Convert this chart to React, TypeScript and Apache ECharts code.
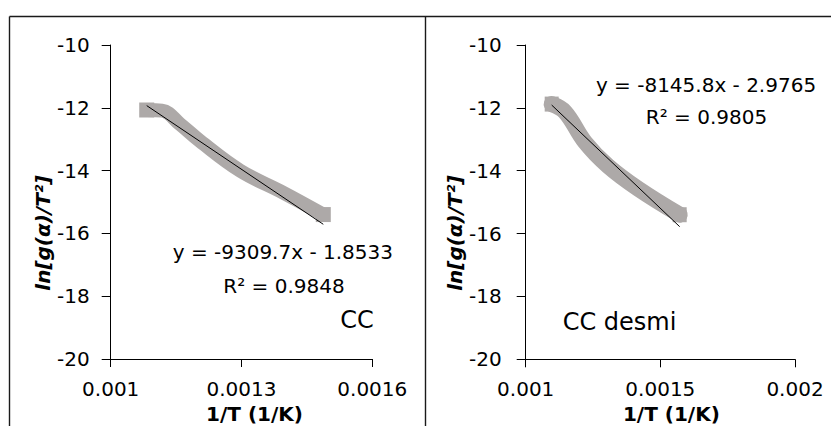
import React, { useEffect, useRef } from "react";
import * as echarts from "echarts";

// ---- data ----
const leftBandX = [0.0010826, 0.0011177, 0.0011589, 0.0012048, 0.0012966, 0.0013952, 0.0014876];
const leftBandY = [-12.07, -12.09, -12.52, -13.06, -14.0, -14.7, -15.4];
const leftTrendX = [0.0010826, 0.0014876];
const leftTrendY = [-11.93, -15.71];

const rightBandX = [0.0010965, 0.0011459, 0.0012202, 0.0013056, 0.001417, 0.0015718];
const rightBandY = [-11.88, -12.13, -13.09, -13.85, -14.57, -15.4];
const rightTrendX = [0.0010965, 0.0015718];
const rightTrendY = [-11.91, -15.78];

const leftXTicks = [0.001, 0.0013, 0.0016];
const rightXTicks = [0.001, 0.0015, 0.002];
const yTicks = [-20, -18, -16, -14, -12, -10];

const leftEquation = "y = -9309.7x - 1.8533";
const leftR2 = "R² = 0.9848";
const leftLabel = "CC";
const rightEquation = "y = -8145.8x - 2.9765";
const rightR2 = "R² = 0.9805";
const rightLabel = "CC desmi";

const xTitle = "1/T (1/K)";
const yTitle = "ln[g(α)/T²]";

const FONT = "'DejaVu Sans', sans-serif";
const BAND = "#ADA9A8";

function pairs(xs: number[], ys: number[]) {
  return xs.map((x, i) => [x, ys[i]]);
}

function bandData(xs: number[], ys: number[], size: number[]) {
  return xs.map((x, i) => {
    const end = i === 0 || i === xs.length - 1;
    return end
      ? { value: [x, ys[i]], symbol: "rect", symbolSize: size }
      : { value: [x, ys[i]], symbol: "none" };
  });
}

function xAxisFor(idx: number, ticks: number[], pad: number) {
  return {
    type: "value",
    gridIndex: idx,
    min: ticks[0],
    max: ticks[ticks.length - 1],
    splitLine: { show: false },
    axisLine: { show: true, onZero: false, lineStyle: { color: "#000", width: 1 } },
    axisTick: { show: true, length: 8, customValues: ticks, lineStyle: { color: "#000" } },
    axisLabel: {
      customValues: ticks,
      margin: 20,
      color: "#000",
      fontFamily: FONT,
      fontSize: 20,
      formatter: (v: number) => String(+v.toPrecision(6)),
    },
    name: xTitle,
    nameLocation: "middle",
    nameGap: 41,
    nameTextStyle: {
      fontFamily: FONT,
      fontSize: 20,
      fontWeight: "bold",
      color: "#000",
      padding: [0, 0, 0, pad],
    },
  };
}

function yAxisFor(idx: number, margin: number) {
  return {
    type: "value",
    gridIndex: idx,
    min: yTicks[0],
    max: yTicks[yTicks.length - 1],
    interval: 2,
    splitLine: { show: false },
    axisLine: { show: true, onZero: false, lineStyle: { color: "#000", width: 1 } },
    axisTick: { show: true, length: 9, lineStyle: { color: "#000" } },
    axisLabel: { margin, color: "#000", fontFamily: FONT, fontSize: 20 },
    name: yTitle,
    nameLocation: "middle",
    nameGap: 58,
    nameTextStyle: {
      fontFamily: FONT,
      fontSize: 20,
      fontWeight: "bold",
      fontStyle: "italic",
      color: "#000",
      padding: [0, 62, 0, 0],
    },
  };
}

function bandSeries(axis: number, xs: number[], ys: number[], width: number, endSize: number[], cap: string) {
  return {
    type: "line",
    xAxisIndex: axis,
    yAxisIndex: axis,
    data: bandData(xs, ys, endSize),
    smooth: 0.4,
    showSymbol: true,
    itemStyle: { color: BAND },
    lineStyle: { color: BAND, width, cap, join: "round" },
    z: 2,
  };
}

function trendSeries(axis: number, xs: number[], ys: number[]) {
  return {
    type: "line",
    xAxisIndex: axis,
    yAxisIndex: axis,
    data: pairs(xs, ys),
    symbol: "none",
    lineStyle: { color: "#000", width: 1 },
    z: 3,
  };
}

export default function App() {
  const ref = useRef<HTMLDivElement>(null);
  useEffect(() => {
    document.body.style.margin = "0";
    const chart = echarts.init(ref.current!, null, { renderer: "svg" });
    const frame = { stroke: "#1a1a1a", lineWidth: 1.4 };
    const txt = (text: string, x: number, y: number, size = 20, align = "center") => ({
      type: "text",
      x,
      y,
      style: { text, fill: "#000", font: `${size}px ${FONT}`, align, verticalAlign: "middle" },
      z: 10,
    });
    chart.setOption({
      animation: false,
      backgroundColor: "#fff",
      grid: [
        { left: 110.7, right: 458.7, top: 45, bottom: 67, outerBoundsMode: "none" },
        { left: 525.7, right: 36, top: 45, bottom: 66.7, outerBoundsMode: "none" },
      ],
      xAxis: [xAxisFor(0, leftXTicks, 26), xAxisFor(1, rightXTicks, 22)],
      yAxis: [yAxisFor(0, 21), yAxisFor(1, 24)],
      series: [
        bandSeries(0, leftBandX, leftBandY, 14, [15, 15], "butt"),
        trendSeries(0, leftTrendX, leftTrendY),
        bandSeries(1, rightBandX, rightBandY, 16, [14, 15], "round"),
        trendSeries(1, rightTrendX, rightTrendY),
      ],
      graphic: [
        { type: "line", shape: { x1: 9.5, y1: 16.5, x2: 831, y2: 16.5 }, style: frame },
        { type: "line", shape: { x1: 9.5, y1: 16.5, x2: 9.5, y2: 426 }, style: frame },
        { type: "line", shape: { x1: 425.5, y1: 16.5, x2: 425.5, y2: 426 }, style: frame },
        txt(leftEquation, 172.7, 252, 20, "left"),
        txt(leftR2, 284, 286),
        txt(leftLabel, 357, 320, 24),
        txt(rightEquation, 706, 85),
        txt(rightR2, 706.5, 117),
        txt(rightLabel, 562.7, 322, 24, "left"),
      ],
    });
    return () => chart.dispose();
  }, []);
  return <div ref={ref} style={{ position: "absolute", left: 0, top: 0, width: 831, height: 426 }} />;
}
